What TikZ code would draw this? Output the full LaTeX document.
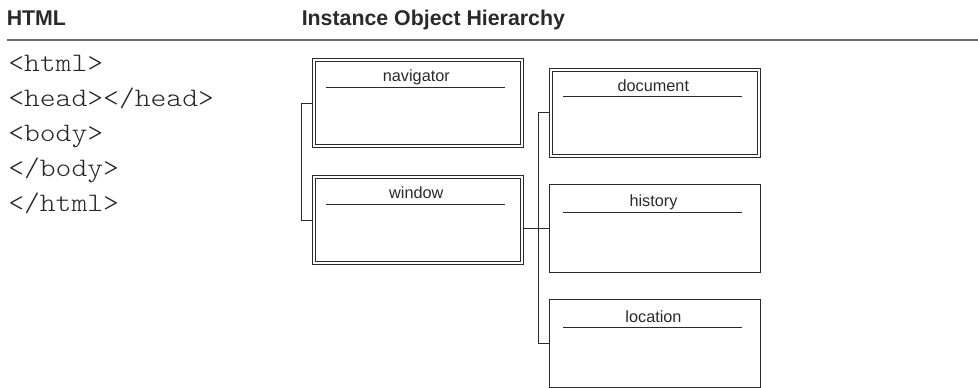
\documentclass[tikz,border=0pt]{standalone}
\usepackage{fontspec}
\setmainfont{Liberation Sans}
\newfontfamily\codefont[FakeStretch=1.13]{lmmonolt10-regular.otf}
\usetikzlibrary{calc}
\definecolor{ink}{HTML}{2A2A2A}
\definecolor{rule}{HTML}{6A6A6A}
\tikzset{
  objbox/.style={draw=ink, line width=0.75pt, inner sep=0pt, minimum width=158.5pt, minimum height=66.2pt},
  dblbox/.style={draw=ink, line width=0.6pt, double=white, double distance=1.6pt, inner sep=0pt, outer sep=1.4pt, minimum width=156pt, minimum height=64.5pt},
  boxlabel/.style={anchor=base, inner sep=0pt, font=\fontsize{12.2pt}{14pt}\selectfont, text=ink},
  titleline/.style={draw=ink, line width=0.8pt},
  conn/.style={draw=ink, line width=0.75pt},
  codeline/.style={anchor=base west, inner sep=0pt, font=\codefont\fontsize{20pt}{22pt}\selectfont, text=black!85},
  headtext/.style={anchor=base west, inner sep=0pt, font=\bfseries\fontsize{16pt}{19pt}\selectfont, text=ink}
}
\begin{document}
\begin{tikzpicture}[x=0.75pt, y=-0.75pt]
\useasboundingbox (0,0) rectangle (978,387);
\clip (0,0) rectangle (978,387);
% header
\node[headtext] (hhtml) at (6.5,25.5) {HTML};
\node[headtext] (hinst) at (301.5,25.3) {Instance Object Hierarchy};
\draw[draw=rule, line width=1.9pt] (7,40) coordinate (r1) -- (978,40) coordinate (r2);
% code
\node[codeline] (c1) at (8,71.7) {<html>};
\node[codeline] (c2) at (8,106.7) {<head></head>};
\node[codeline] (c3) at (8,141.3) {<body>};
\node[codeline] (c4) at (8,176.3) {</body>};
\node[codeline] (c5) at (8,211.5) {</html>};
% boxes
\node[dblbox] (nav) at (417.85,103.35) {};
\node[dblbox] (win) at (417.85,220.35) {};
\node[dblbox] (doc) at (654.85,112.8) {};
\node[objbox] (hist) at (655,228.15) {};
\node[objbox] (loc) at (655,343.45) {};
% titles
\node[boxlabel] (navt) at ($(nav.north)+(-1.5,23.3)$) {navigator};
\node[boxlabel] (wint) at ($(win.north)+(-1.5,23.3)$) {window};
\node[boxlabel] (doct) at ($(doc.north)+(-1.5,23.3)$) {document};
\node[boxlabel] (histt) at ($(hist.north)+(-1.5,23.3)$) {history};
\node[boxlabel] (loct) at ($(loc.north)+(-1.5,23.3)$) {location};
\draw[titleline] ($(nav.north west)+(14,29)$) -- ++(179,0);
\draw[titleline] ($(win.north west)+(14,29)$) -- ++(179,0);
\draw[titleline] ($(doc.north west)+(14,29)$) -- ++(179,0);
\draw[titleline] ($(hist.north west)+(14,28.7)$) -- ++(179,0);
\draw[titleline] ($(loc.north west)+(14,28.7)$) -- ++(179,0);
% connectors
\draw[conn] (nav.west) -- ++(-10,0) |- (win.west);
\draw[conn] (win.east |- hist.west) -- (hist.west);
\draw[conn] (doc.west) -- ++(-10.3,0) |- (loc.west);
\end{tikzpicture}
\end{document}
